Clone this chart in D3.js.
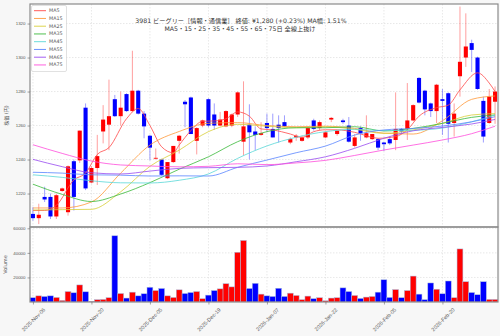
<!DOCTYPE html>
<html>
<head>
<meta charset="utf-8">
<script src="https://cdn.jsdelivr.net/npm/d3@7"></script>
<style>
  body { margin: 0; background: #f7f7f7; }
  svg { display: block; font-family: "DejaVu Sans", "Noto Sans CJK JP", sans-serif; }
</style>
</head>
<body>
<svg id="chart" width="500" height="336"></svg>
<script>
// daily bars, 2025-11-06 .. 2026-03-05 (trading days)
const open = [1208,1205.5,1218,1218,1206.5,1221.5,1209,1239,1239.5,1270.5,
  1226.5,1235,1256.5,1260.5,1275.5,1265.5,1278.5,1268.5,1280.5,1267,
  1254,1240.5,1240,1229,1238.5,1251,1274,1276.5,1251,1260,
  1275.5,1266.5,1260,1259.5,1260,1266.5,1250.5,1260.5,1256.5,1254.5,
  1261.5,1258,1260.5,1262,1250,1253,1251,1253,1263,1258.5,
  1253,1263.5,1255,1263,1260,1248,1258.5,1253,1252,1252,
  1250,1252,1251.5,1258,1258,1263,1288,1280.5,1273,1268.5,
  1275.5,1279,1261.5,1289,1300,1308.5,1300,1274.5,1261.5,1274];
const high = [1212,1214,1224,1220,1220,1223.5,1236.5,1240,1257,1273,
  1236,1254.5,1272,1287,1278,1280,1279,1304,1281,1268.5,
  1254.5,1246.5,1240.5,1238.5,1248,1254.5,1275,1277,1259,1263.5,
  1276,1273,1268,1269,1267,1280,1286,1272.5,1259.5,1262,
  1267,1267,1266,1266,1253,1255,1254,1259,1264,1263,
  1256.5,1265,1257,1264,1265,1255,1259.5,1266,1255,1252.5,
  1250.5,1253.5,1279.5,1258.5,1285,1272.5,1288.5,1281,1273.5,1284.5,
  1281.5,1279.5,1273,1330,1326,1310.5,1300.5,1277,1281.5,1283];
const low = [1204,1202,1215,1205,1205,1221,1207,1210,1238,1222,
  1226,1225,1249.5,1245.5,1265,1260,1268,1268,1266.5,1252.5,
  1239.5,1240,1230.5,1228.5,1238,1243.5,1259,1255,1243,1259,
  1259,1257.5,1259.5,1259,1259,1265,1242.5,1240,1245.5,1254,
  1256,1253,1250,1259,1249,1251,1250.5,1252,1257,1257,
  1252.5,1262,1254,1261,1250,1247,1251,1252.5,1251.5,1245.5,
  1245,1248.5,1245.5,1255,1251.5,1262.5,1273,1266,1265,1261.5,
  1254.5,1250,1253.5,1277,1294.5,1291.5,1281,1250,1261,1261];
const close = [1205.5,1207.5,1216.5,1206.5,1219,1223,1236,1218,1257,1223,
  1235,1242,1263.5,1265.5,1265.5,1270.5,1268.5,1280.5,1267,1259.5,
  1247,1241,1231,1238.5,1248,1254,1272.5,1255,1258.5,1263,
  1260,1260,1263.5,1268.5,1266.5,1279.5,1259.5,1256,1254.5,1255.5,
  1258.5,1253,1258.5,1259.5,1252,1254,1253,1258.5,1258,1262,
  1256,1264.5,1257,1262,1250.5,1253,1255.5,1255.5,1255,1247,
  1249,1249.5,1258,1256.5,1263,1272,1273.5,1269.5,1268.5,1284,
  1274.5,1261,1267,1297.5,1306.5,1304.5,1281.5,1253.5,1277,1280];
const volume = [3500,5000,4500,5000,3700,1300,8500,7500,13900,8300,
  500,1900,2100,3500,53900,6900,3200,8000,5000,6700,
  12000,9300,11000,5000,3700,9900,6900,7700,8500,2700,
  5600,9300,10700,14900,12300,40500,50100,11000,15200,6400,
  5000,4500,11200,4500,7200,5300,1900,4800,2700,3500,
  1000,3200,3500,11500,8500,5300,2900,4000,4500,8000,
  18100,3700,10100,3500,9300,21100,6400,1900,15500,10400,
  6700,17100,3500,43200,16500,7700,5900,16500,2100,2100];

// moving averages
const ma5Idx = [0,2,4,7,9,11,13,16,18,20,22,24,25,27,29,31,33,35,37,39,41,44,46,48,50,52,55,59,62,64,66,69,71,73,76,78,79];
const ma5 = [1210,1210,1213,1228,1232,1243,1247,1264,1270,1260,1247.5,1244,1248.5,1257,1262.5,1262.7,1264,1268,1265.5,1258,
  1257.4,1255,1253,1256.4,1257.5,1257.5,1256,1252.5,1253.5,1257.5,1265.5,1270.5,1272,1281,1291,1285,1280];
const maIdx = [0,5,10,15,20,25,30,35,40,45,50,55,60,65,70,75,79];
const ma15 = [1211.5,1211.5,1215,1232,1248.5,1256.5,1261.3,1261.7,1260,1259.3,1259.6,1258.3,1255.5,1255,1262.8,1275.4,1277.4];
const ma25 = [1210.3,1210.5,1210.7,1221,1236,1245.5,1256.4,1260.7,1259.6,1258.7,1259.3,1257.8,1255.4,1257.4,1261.3,1266.2,1267];
const ma35 = [1225.5,1219.5,1215.3,1219.7,1226.4,1234.3,1241.6,1250.5,1256.4,1258.7,1258.7,1259.3,1256.8,1258.3,1261.3,1264.8,1266.2];
const ma45 = [1231,1229.5,1227.5,1226.3,1226.2,1227.8,1231.5,1240.7,1248,1253.1,1256.4,1257.8,1257,1257.2,1258.5,1262.2,1266.2];
const ma55 = [1232.5,1232,1231,1230.8,1230.3,1230.4,1230.3,1235.4,1239.7,1244,1247.9,1254.4,1257.4,1258.3,1259.7,1262.2,1265.2];
const ma65 = [1240.1,1235.8,1232.2,1231.5,1233.2,1234.8,1235.2,1235.4,1236.2,1238.7,1241.6,1246.6,1252.5,1256.9,1258.9,1260.9,1263.6];
const ma75 = [1248.7,1243.6,1239.1,1236.8,1236.2,1235.7,1236,1237.5,1237,1238,1239.5,1242.4,1245.6,1248.5,1251.5,1255.2,1259.6];

const maNames = ["MA5","MA15","MA25","MA35","MA45","MA55","MA65","MA75"];
const maColors = ["#ff4a4a","#ff9a3c","#d9cf3a","#3cba3c","#5ad8d8","#5a86ff","#9a4df0","#ff4fdc"];

const tickIdx = [0,10,20,30,40,50,60,70];
const tickLabels = ["2025-Nov-06","2025-Nov-20","2025-Dec-05","2025-Dec-19","2026-Jan-07","2026-Jan-22","2026-Feb-05","2026-Feb-20"];
const priceTicks = [1220,1240,1260,1280,1300,1320];
const volTicks = [20000,40000,60000];

const title1 = "3981  ビーグリー［情報・通信業］ 終値: ¥1,280 (+0.23%)  MA幅: 1.51%";
const title2 = "MA5・15・25・35・45・55・65・75日 全線上抜け";

const W = 500, H = 336;
const L = 30, R = 498, mTop = 4, mBot = 227, vTop = 227, vBot = 302;
const n = close.length;
const upCol = "#ff0000", dnCol = "#0000ff";

const svg = d3.select("#chart");
svg.append("rect").attr("width", W).attr("height", H).attr("fill", "#f7f7f7");

const x = d3.scaleLinear().domain([-0.5, n - 0.5]).range([L, R]);
const y = d3.scaleLinear().domain([1200.3, 1331.5]).range([mBot, mTop]);
const yv = d3.scaleLinear().domain([0, 60000]).range([vBot, 228.3]);

const defs = svg.append("defs");
defs.append("clipPath").attr("id", "clipMain").append("rect")
  .attr("x", L).attr("y", mTop).attr("width", R - L).attr("height", mBot - mTop);
defs.append("clipPath").attr("id", "clipVol").append("rect")
  .attr("x", L).attr("y", vTop).attr("width", R - L).attr("height", vBot - vTop);

// panels
svg.append("rect").attr("x", L).attr("y", mTop).attr("width", R - L).attr("height", mBot - mTop).attr("fill", "#fff");
svg.append("rect").attr("x", L).attr("y", vTop).attr("width", R - L).attr("height", vBot - vTop).attr("fill", "#fff");

// grid
const grid = svg.append("g").attr("stroke", "#d9d9d9").attr("stroke-width", 0.6).attr("stroke-dasharray", "1.5,1.5");
grid.selectAll("line.gx").data(tickIdx).join("line")
  .attr("x1", d => x(d)).attr("x2", d => x(d)).attr("y1", mTop).attr("y2", vBot);
grid.selectAll("line.gy").data(priceTicks).join("line")
  .attr("x1", L).attr("x2", R).attr("y1", d => y(d)).attr("y2", d => y(d));
grid.selectAll("line.gv").data(volTicks).join("line")
  .attr("x1", L).attr("x2", R).attr("y1", d => yv(d)).attr("y2", d => yv(d));

const isUp = i => close[i] >= open[i];
const bw = (x(1) - x(0)) * 0.7;

// candles
const cg = svg.append("g").attr("clip-path", "url(#clipMain)");
cg.selectAll("line.wick").data(d3.range(n)).join("line")
  .attr("x1", i => x(i)).attr("x2", i => x(i))
  .attr("y1", i => y(high[i])).attr("y2", i => y(low[i]))
  .attr("stroke", i => isUp(i) ? upCol : dnCol)
  .attr("stroke-opacity", 0.38).attr("stroke-width", 1);
cg.selectAll("rect.body").data(d3.range(n)).join("rect")
  .attr("x", i => x(i) - bw / 2).attr("width", bw)
  .attr("y", i => y(Math.max(open[i], close[i])))
  .attr("height", i => Math.max(0.8, Math.abs(y(open[i]) - y(close[i]))))
  .attr("fill", i => isUp(i) ? upCol : dnCol);

// moving averages
const maSeries = [
  {idx: ma5Idx, vals: ma5}, {idx: maIdx, vals: ma15}, {idx: maIdx, vals: ma25}, {idx: maIdx, vals: ma35},
  {idx: maIdx, vals: ma45}, {idx: maIdx, vals: ma55}, {idx: maIdx, vals: ma65}, {idx: maIdx, vals: ma75}
];
const line = d3.line().curve(d3.curveMonotoneX).x(d => x(d[0])).y(d => y(d[1]));
const mg = svg.append("g").attr("clip-path", "url(#clipMain)");
maSeries.forEach((s, k) => {
  mg.append("path")
    .attr("d", line(s.idx.map((d, j) => [d, s.vals[j]])))
    .attr("fill", "none").attr("stroke", maColors[k])
    .attr("stroke-width", 0.9).attr("stroke-opacity", 0.9);
});

// volume
const vg = svg.append("g").attr("clip-path", "url(#clipVol)");
const vw = x(1) - x(0);
vg.selectAll("rect").data(d3.range(n)).join("rect")
  .attr("x", i => x(i) - vw / 2).attr("width", vw)
  .attr("y", i => yv(volume[i])).attr("height", i => yv(0) - yv(volume[i]))
  .attr("fill", i => isUp(i) ? upCol : dnCol)
  .attr("stroke", "#a9bde0").attr("stroke-width", 0.5);

// frames
svg.append("rect").attr("x", L).attr("y", mTop).attr("width", R - L).attr("height", mBot - mTop)
  .attr("fill", "none").attr("stroke", "#8a8a8a").attr("stroke-width", 1.2);
svg.append("rect").attr("x", L).attr("y", vTop).attr("width", R - L).attr("height", vBot - vTop)
  .attr("fill", "none").attr("stroke", "#8a8a8a").attr("stroke-width", 1.2);

// axes
function styleAxis(g, size) {
  g.select(".domain").remove();
  g.selectAll("line").attr("stroke", "#666").attr("stroke-width", 0.6);
  g.selectAll("text").attr("fill", "#555").attr("font-size", size);
}
svg.append("g").attr("transform", `translate(${L},0)`)
  .call(d3.axisLeft(y).tickValues(priceTicks).tickSize(2.5).tickPadding(2).tickFormat(d3.format("d")))
  .call(styleAxis, 4.4);
svg.append("g").attr("transform", `translate(${L},0)`)
  .call(d3.axisLeft(yv).tickValues(volTicks).tickSize(2.5).tickPadding(2).tickFormat(d3.format("d")))
  .call(styleAxis, 4.4);
const xa = svg.append("g").attr("transform", `translate(0,${vBot})`)
  .call(d3.axisBottom(x).tickValues(tickIdx).tickSize(2.5).tickFormat((d, i) => tickLabels[i]))
  .call(styleAxis, 5.3);
xa.selectAll("text")
  .attr("text-anchor", "middle").attr("dy", null).attr("y", null)
  .attr("dominant-baseline", "central")
  .attr("transform", "translate(0,17.5) rotate(-45)");

// axis titles
svg.append("text").attr("transform", `translate(8,${(mTop + mBot) / 2}) rotate(-90)`)
  .attr("text-anchor", "middle").attr("font-size", 5).attr("fill", "#555").text("株価 (円)");
svg.append("text").attr("transform", `translate(7,${(vTop + vBot) / 2}) rotate(-90)`)
  .attr("text-anchor", "middle").attr("font-size", 5).attr("fill", "#555").text("Volume");

// title
svg.append("text").attr("x", 241).attr("y", 22.5).attr("text-anchor", "middle")
  .attr("font-size", 6.2).attr("fill", "#333").text(title1);
svg.append("text").attr("x", 240).attr("y", 30.5).attr("text-anchor", "middle")
  .attr("font-size", 6.2).attr("fill", "#333").text(title2);

// legend
const lg = svg.append("g").attr("transform", "translate(31.5,5.5)");
lg.append("rect").attr("width", 35).attr("height", 66).attr("rx", 1.5)
  .attr("fill", "#fff").attr("fill-opacity", 0.85).attr("stroke", "#ccc").attr("stroke-width", 0.6);
maNames.forEach((name, k) => {
  const yy = 5.2 + k * 7.75;
  lg.append("line").attr("x1", 2.5).attr("x2", 14.5).attr("y1", yy).attr("y2", yy)
    .attr("stroke", maColors[k]).attr("stroke-width", 0.9);
  lg.append("text").attr("x", 17.5).attr("y", yy).attr("dominant-baseline", "central")
    .attr("font-size", 4.8).attr("fill", "#555").text(name);
});
</script>
</body>
</html>
